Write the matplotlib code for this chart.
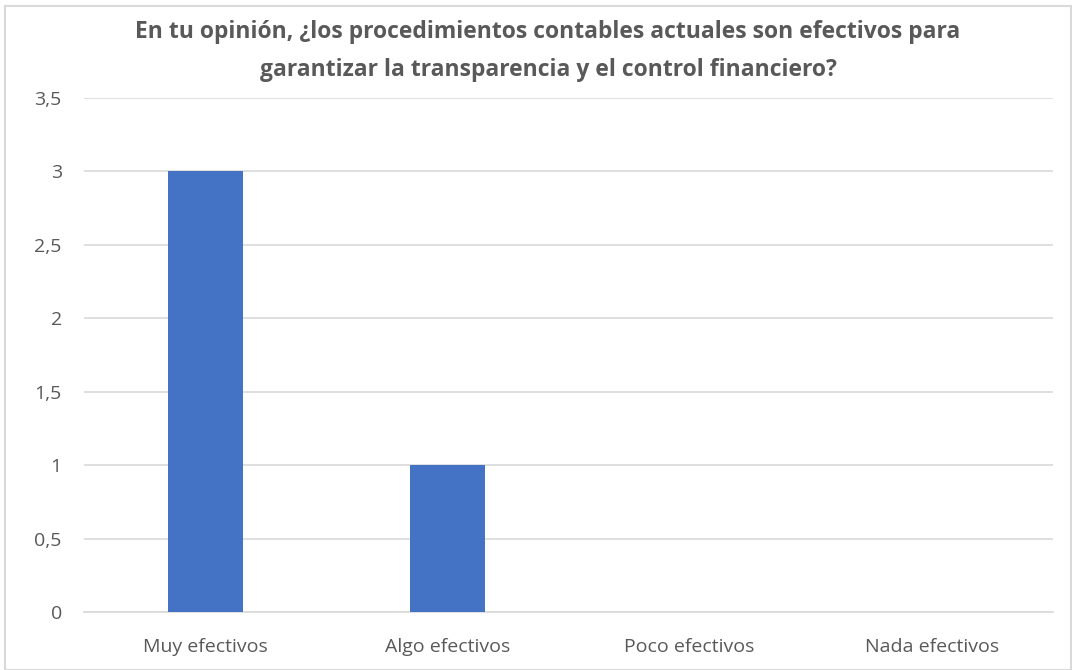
import matplotlib
matplotlib.use("Agg")
import matplotlib.pyplot as plt
from matplotlib.patches import Rectangle

categories = ["Muy efectivos", "Algo efectivos", "Poco efectivos", "Nada efectivos"]
values = [3, 1, 0, 0]
yticks = [0, 0.5, 1, 1.5, 2, 2.5, 3, 3.5]
ytick_labels = ["0", "0,5", "1", "1,5", "2", "2,5", "3", "3,5"]
title = ("En tu opinión, ¿los procedimientos contables actuales son efectivos para\n"
         "garantizar la transparencia y el control financiero?")

W, H = 1072, 670
fig = plt.figure(figsize=(W/100, H/100), dpi=100)
fig.patch.set_facecolor("white")
# outer border
fig.patches.append(Rectangle((5/W, 0), (W-5)/W - 1/W, (H-6)/H, transform=fig.transFigure,
                             fill=False, edgecolor="#d9d9d9", linewidth=1.5))

left, right, top, bottom = 84, 1053, 98, 612
ax = fig.add_axes([left/W, 1 - bottom/H, (right-left)/W, (bottom-top)/H])
x = range(len(categories))
ax.bar(x, values, width=0.31, color="#4472C4", zorder=3)
ax.set_xlim(-0.5, len(categories) - 0.5)
ax.set_ylim(0, 3.5)
ax.set_yticks(yticks)
ax.set_yticklabels(ytick_labels)
ax.set_xticks(list(x))
ax.set_xticklabels(categories)
ax.grid(axis="y", color="#d9d9d9", linewidth=1.2, zorder=0)
for s in ["top", "right", "left"]:
    ax.spines[s].set_visible(False)
ax.spines["bottom"].set_color("#d9d9d9")
ax.spines["bottom"].set_linewidth(1.2)
ax.tick_params(axis="both", length=0, colors="#595959", labelsize=14)
ax.tick_params(axis="y", pad=16)
ax.tick_params(axis="x", pad=19)
for lab in ax.get_xticklabels() + ax.get_yticklabels():
    lab.set_fontfamily("Open Sans")
    lab.set_color("#595959")

fig.text(548/W, 1 - 51/H, title, ha="center", va="center", fontsize=16.5,
         fontweight="bold", color="#595959", family="Open Sans",
         linespacing=1.75)

fig.savefig("out.png", dpi=100)
